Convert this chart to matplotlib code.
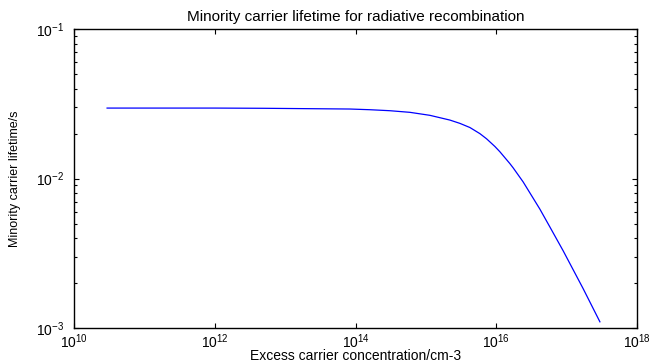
import matplotlib
matplotlib.use("Agg")
import matplotlib.pyplot as plt
from matplotlib.ticker import LogLocator, NullLocator, NullFormatter

# excess carrier concentration (cm^-3) and lifetime (s)
concentration = [2.95e10, 1e12, 5e12, 8.32e13, 1.60e14, 3.08e14, 5.93e14,
                 1.14e15, 2.19e15, 3.04e15, 4.22e15, 5.85e15, 7.28e15,
                 9.55e15, 1.125e16, 1.56e16, 1.74e16, 2.41e16, 4.16e16,
                 5.77e16, 8.91e16, 1.71e17, 2.97e17]
lifetime = [0.0296, 0.0296, 0.0295, 0.02917, 0.02886, 0.02842, 0.02772,
            0.02647, 0.02461, 0.02339, 0.02194, 0.01997, 0.01844,
            0.01639, 0.01511, 0.01259, 0.01178, 0.00949, 0.00625,
            0.00475, 0.00329, 0.00184, 0.00110]

x_ticks = [1e10, 1e12, 1e14, 1e16, 1e18]

plt.rcParams["font.family"] = ["Liberation Sans", "DejaVu Sans"]
plt.rcParams["mathtext.fontset"] = "custom"
plt.rcParams["mathtext.rm"] = "Liberation Sans"
plt.rcParams["mathtext.it"] = "Liberation Sans"

fig = plt.figure(figsize=(6.61, 3.63), dpi=100)
ax = fig.add_axes([0.112, 0.0964, 0.8517, 0.8236])
ax.plot(concentration, lifetime, color="#0000FF", linewidth=0.9)

ax.set_xscale("log")
ax.set_yscale("log")
ax.set_xlim(1e10, 1e18)
ax.set_ylim(1e-3, 1e-1)
ax.set_xticks(x_ticks)
ax.xaxis.set_minor_locator(NullLocator())
ax.yaxis.set_minor_locator(LogLocator(base=10, subs=range(2, 10)))
ax.yaxis.set_minor_formatter(NullFormatter())

ax.tick_params(which="both", direction="in", top=True, right=True,
               labelsize=10, width=0.8)
ax.tick_params(which="major", length=3.5)
ax.tick_params(which="minor", length=2)
ax.tick_params(axis="x", pad=3)
ax.tick_params(axis="y", pad=7)
for side in ax.spines.values():
    side.set_linewidth(1.0)

ax.set_title("Minority carrier lifetime for radiative recombination",
             fontsize=11, pad=6)
ax.set_xlabel("Excess carrier concentration/cm-3", fontsize=10, labelpad=-1)
ax.set_ylabel("Minority carrier lifetime/s", fontsize=9,
              family=["Liberation Sans Narrow", "Liberation Sans"], labelpad=11)

fig.savefig("out.png", dpi=100)
